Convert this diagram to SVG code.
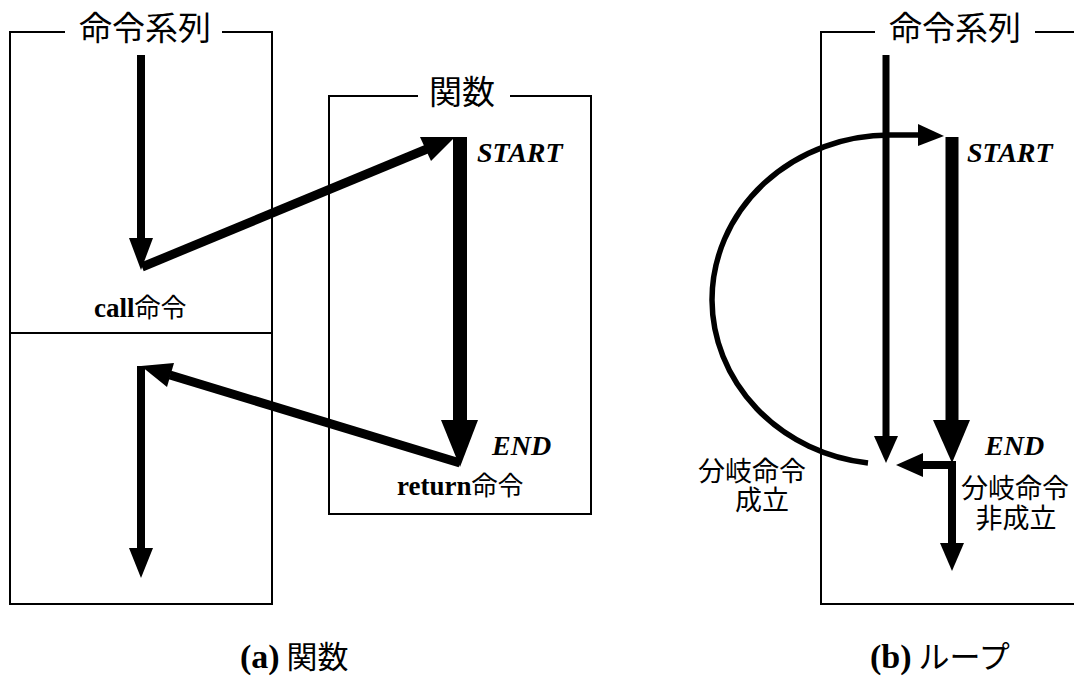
<svg xmlns="http://www.w3.org/2000/svg" width="1074" height="684" viewBox="0 0 1074 684">
  <style>
    .frame { fill: none; stroke: #000; stroke-width: 2; }
    .flow { fill: none; stroke: #000; stroke-linecap: butt; stroke-linejoin: miter; }
    .head { fill: #000; stroke: none; }
    .jp { font-family: "Noto Sans CJK JP", sans-serif; fill: #000; }
    .lat { font-family: "Liberation Serif", "Times New Roman", serif; font-weight: bold; fill: #000; }
    .tag { font-family: "Liberation Serif", "Times New Roman", serif; font-weight: bold; font-style: italic; font-size: 28px; fill: #000; }
  </style>
  <rect width="1074" height="684" fill="#fff"/>

  <!-- (a) calling a function -->
  <g id="seq-a">
    <path class="frame" d="M 65 32 H 10 V 604 H 272 V 32 H 222"/>
    <line class="frame" x1="10" y1="333" x2="272" y2="333"/>
    <text class="jp" x="145" y="40" font-size="33" text-anchor="middle">命令系列</text>
  </g>
  <g id="func-a">
    <path class="frame" d="M 418 96 H 329 V 514 H 591 V 96 H 510"/>
    <text class="jp" x="462" y="104" font-size="33" text-anchor="middle">関数</text>
    <text class="tag" x="477" y="162">START</text>
    <text class="tag" x="492" y="455">END</text>
  </g>
  <g id="call-label">
    <text x="94" y="317"><tspan class="lat" font-size="27">call</tspan><tspan class="jp" font-size="26">命令</tspan></text>
  </g>
  <g id="return-label">
    <text x="397" y="495"><tspan class="lat" font-size="27">return</tspan><tspan class="jp" font-size="26">命令</tspan></text>
  </g>

  <g id="connectors-a">
    <!-- sequence down to the call -->
    <line class="flow" x1="141" y1="55" x2="141" y2="240" stroke-width="8"/>
    <polygon class="head" points="129,238 153,238 141,270"/>
    <!-- jump to START -->
    <line class="flow" x1="142" y1="267" x2="427" y2="149" stroke-width="9"/>
    <polygon class="head" points="420,137 431,161 455,137"/>
    <!-- function body -->
    <line class="flow" x1="460" y1="137" x2="460" y2="422" stroke-width="14"/>
    <polygon class="head" points="441,420 478,420 460,467"/>
    <!-- return -->
    <line class="flow" x1="460" y1="463" x2="170" y2="375" stroke-width="9"/>
    <polygon class="head" points="174,363 167,387 141,366"/>
    <!-- sequence continues -->
    <line class="flow" x1="141" y1="366" x2="141" y2="550" stroke-width="8"/>
    <polygon class="head" points="129,548 153,548 141,578"/>
  </g>

  <!-- (b) loop -->
  <g id="seq-b">
    <path class="frame" d="M 875 32 H 821 V 604 H 1080"/>
    <line class="frame" x1="1035" y1="32" x2="1080" y2="32"/>
    <text class="jp" x="955" y="40" font-size="33" text-anchor="middle">命令系列</text>
    <text class="tag" x="967" y="162">START</text>
    <text class="tag" x="985" y="455">END</text>
  </g>
  <g id="branch-taken">
    <text class="jp" font-size="27" text-anchor="middle"><tspan x="752" y="481">分岐命令</tspan><tspan x="762" y="510">成立</tspan></text>
  </g>
  <g id="branch-not-taken">
    <text class="jp" font-size="27" text-anchor="middle"><tspan x="1015" y="498">分岐命令</tspan><tspan x="1016" y="528">非成立</tspan></text>
  </g>

  <g id="connectors-b">
    <!-- straight sequence -->
    <line class="flow" x1="886" y1="55" x2="886" y2="438" stroke-width="7"/>
    <polygon class="head" points="874,436 898,436 886,463"/>
    <!-- loop body -->
    <line class="flow" x1="952" y1="137" x2="952" y2="422" stroke-width="13"/>
    <polygon class="head" points="933,420 970,420 952,463"/>
    <!-- branch back -->
    <polyline class="flow" points="952,461 952,465 922,465" stroke-width="8"/>
    <polygon class="head" points="923,453 923,477 896,465"/>
    <!-- fall through -->
    <line class="flow" x1="952" y1="463" x2="952" y2="545" stroke-width="8"/>
    <polygon class="head" points="940,543 964,543 952,571"/>
    <!-- loop arc -->
    <path class="flow" d="M 868 463 A 178 165 0 0 1 712 300 A 178 165 0 0 1 890 135 L 920 135" stroke-width="5.5"/>
    <polygon class="head" points="918,124 918,146 944,136"/>
  </g>

  <!-- captions -->
  <g id="caption-a">
    <text x="240" y="668"><tspan class="lat" font-size="34">(a)</tspan><tspan class="jp" font-size="31"> 関数</tspan></text>
  </g>
  <g id="caption-b">
    <text x="870" y="668"><tspan class="lat" font-size="34">(b)</tspan><tspan class="jp" font-size="31"> ループ</tspan></text>
  </g>
</svg>
